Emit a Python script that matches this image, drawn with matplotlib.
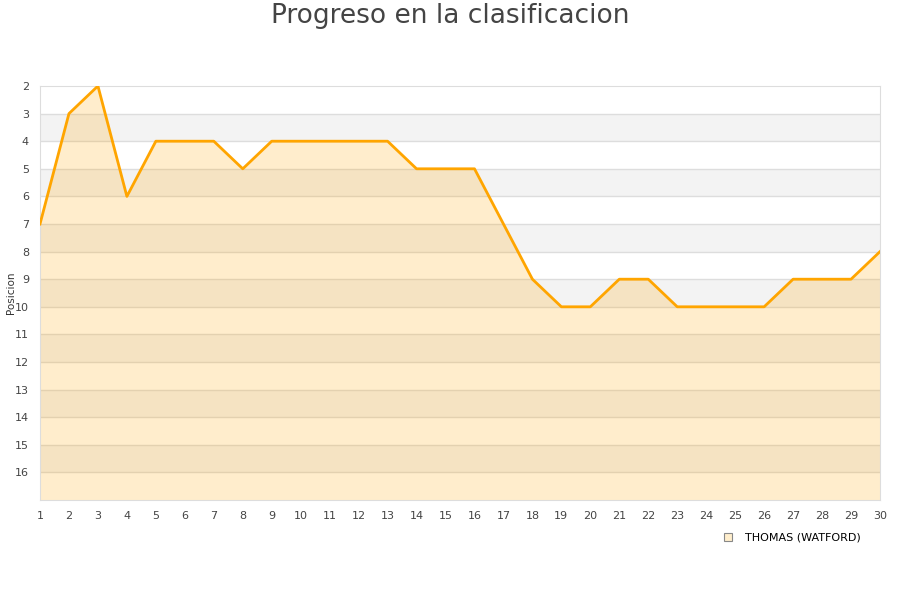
import matplotlib
matplotlib.use("Agg")
import matplotlib.pyplot as plt
from matplotlib.lines import Line2D

jornadas = list(range(1, 31))
posiciones = [7, 3, 2, 6, 4, 4, 4, 5, 4, 4, 4, 4, 4, 5, 5, 5, 7, 9, 10, 10,
              9, 9, 10, 10, 10, 10, 9, 9, 9, 8]
ytick_vals = list(range(2, 17))
title = "Progreso en la clasificacion"
ylabel = "Posicion"
legend_label = "THOMAS (WATFORD)"

fig = plt.figure(figsize=(9, 6), dpi=100)
ax = fig.add_axes([40/900, 1-500/600, 840/900, 414/600])

ymin, ymax = 2, 17
# alternating bands
for i, y0 in enumerate(range(ymin, ymax)):
    col = "#FFFFFF" if i % 2 == 0 else "#F3F3F3"
    ax.axhspan(y0, y0+1, color=col, zorder=0, lw=0)
for y0 in range(ymin+1, ymax):
    ax.axhline(y0, color="#DDDDDD", lw=1, zorder=1)

ax.fill_between(jornadas, posiciones, ymax, color="#FFA500", alpha=0.2, lw=0, zorder=2)
ax.plot(jornadas, posiciones, color="#FFA500", lw=2.0, zorder=3, solid_joinstyle="round")

ax.set_xlim(1, 30)
ax.set_ylim(ymax, ymin)
ax.set_xticks(jornadas)
ax.set_yticks(ytick_vals)
ax.tick_params(length=0, labelsize=8, colors="#444444", pad=8)
for s in ax.spines.values():
    s.set_color("#DDDDDD")

ax.set_ylabel(ylabel, fontsize=7.5, color="#333333")
ax.yaxis.set_label_coords(-24/840, 0.5)
fig.text(0.5, 1-16/600, title, ha="center", va="center", fontsize=19, color="#444444")

handle = Line2D([], [], marker="s", linestyle="none", markersize=6,
                markerfacecolor="#FFEECC", markeredgecolor="#888888", markeredgewidth=0.8)
fig.legend([handle], [legend_label], loc="center right", bbox_to_anchor=(866/900, 1-538/600),
           frameon=False, fontsize=8, handletextpad=0.5, borderpad=0)

fig.savefig("out.png", dpi=100)
